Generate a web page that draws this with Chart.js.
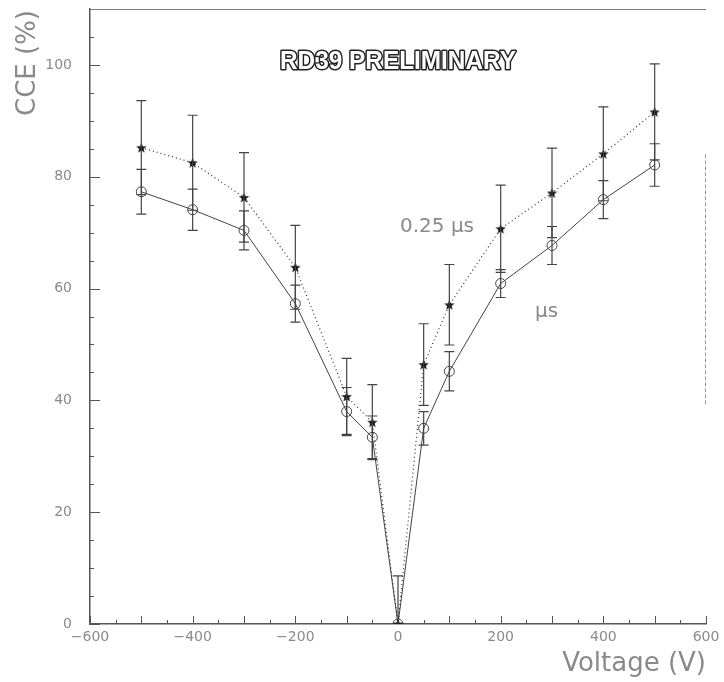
<!DOCTYPE html>
<html lang="en">
<head>
  <meta charset="UTF-8">
  <title>RD39 CCE vs Voltage</title>
  <script src="https://cdn.jsdelivr.net/npm/chart.js"></script>
  <style>
    body { margin: 0; background: #ffffff; }
    #chart { display: block; }
  </style>
</head>
<body>
  <canvas id="chart" width="724" height="682"></canvas>

  <script>
    // values
    const voltages = [-500, -400, -300, -200, -100, -50, 0, 50, 100, 200, 300, 400, 500];
    const cceShort = [85.2, 82.5, 76.3, 63.8, 40.7, 36.1, 0, 46.4, 57.1, 70.7, 77.1, 84.1, 91.6];   // 0.25 us
    const errShort = [8.4, 8.5, 8.0, 7.5, 6.8, 6.7, 8.6, 7.3, 7.2, 7.8, 8.0, 8.4, 8.6];
    const cceLong = [77.3, 74.1, 70.4, 57.3, 38.0, 33.4, 0, 35.0, 45.2, 60.9, 67.7, 75.9, 82.1];     // us (label cut off)
    const errLong = [4.0, 3.7, 3.5, 3.3, 4.3, 3.8, 0, 3.0, 3.5, 2.5, 3.4, 3.4, 3.8];

    const xTicks = [-600, -400, -200, 0, 200, 400, 600];
    const yTicks = [0, 20, 40, 60, 80, 100];

    const toPoints = (ys) => voltages.map((v, i) => ({ x: v, y: ys[i] }));

    // filled star marker
    const makeStar = (size) => {
      const c = document.createElement('canvas');
      c.width = c.height = size;
      const g = c.getContext('2d');
      g.beginPath();
      for (let i = 0; i < 10; i++) {
        const r = i % 2 ? size * 0.21 : size * 0.5;
        const a = -Math.PI / 2 + i * Math.PI / 5;
        const px = size / 2 + r * Math.cos(a), py = size / 2 + 0.5 + r * Math.sin(a);
        i ? g.lineTo(px, py) : g.moveTo(px, py);
      }
      g.closePath();
      g.fillStyle = '#111';
      g.fill();
      return c;
    };

    const labelColor = '#8a8a8a';

    // error bars, inner ticks, frame and free text
    const decor = {
      id: 'decor',
      beforeDatasetsDraw(chart) {
        const { ctx, chartArea: a, scales: { x, y } } = chart;
        ctx.save();
        ctx.strokeStyle = '#555';
        ctx.lineWidth = 1;
        // y ticks every 5
        for (let v = 0; v <= 110; v += 5) {
          const py = Math.round(y.getPixelForValue(v)) + 0.5;
          const len = v % 20 === 0 ? 10 : 4;
          ctx.beginPath(); ctx.moveTo(a.left, py); ctx.lineTo(a.left + len, py); ctx.stroke();
        }
        // x ticks every 50
        for (let v = -600; v <= 600; v += 50) {
          const px = Math.round(x.getPixelForValue(v)) + 0.5;
          const len = v % 100 === 0 ? 8 : 4;
          ctx.beginPath(); ctx.moveTo(px, a.bottom); ctx.lineTo(px, a.bottom - len); ctx.stroke();
        }
        // top and right frame
        ctx.strokeStyle = '#777';
        ctx.beginPath(); ctx.moveTo(a.left, a.top + 0.5); ctx.lineTo(a.right, a.top + 0.5); ctx.stroke();
        ctx.setLineDash([4, 2]);
        ctx.strokeStyle = '#999';
        ctx.beginPath();
        ctx.moveTo(a.right - 0.5, y.getPixelForValue(84));
        ctx.lineTo(a.right - 0.5, y.getPixelForValue(39));
        ctx.stroke();
        ctx.restore();
      },
      afterDatasetsDraw(chart) {
        const { ctx, chartArea: a, scales: { x, y } } = chart;
        const bars = [[cceShort, errShort], [cceLong, errLong]];
        ctx.save();
        ctx.beginPath();
        ctx.rect(a.left, a.top, a.right - a.left, a.bottom - a.top);
        ctx.clip();
        ctx.strokeStyle = '#444';
        ctx.lineWidth = 1.2;
        bars.forEach(([vals, errs]) => {
          voltages.forEach((v, i) => {
            if (!errs[i]) return;
            const px = x.getPixelForValue(v);
            const top = y.getPixelForValue(vals[i] + errs[i]);
            const bot = y.getPixelForValue(vals[i] - errs[i]);
            ctx.beginPath();
            ctx.moveTo(px, top); ctx.lineTo(px, bot);
            ctx.moveTo(px - 5, top); ctx.lineTo(px + 5, top);
            ctx.moveTo(px - 5, bot); ctx.lineTo(px + 5, bot);
            ctx.stroke();
          });
        });
        ctx.restore();

        ctx.save();
        // outlined banner
        ctx.font = 'bold 25px "Liberation Sans", Arial, sans-serif';
        ctx.textAlign = 'center';
        ctx.textBaseline = 'middle';
        ctx.lineJoin = 'round';
        const txt = 'RD39 PRELIMINARY';
        const w = ctx.measureText(txt).width;
        ctx.translate(398, 62);
        ctx.scale(236 / w, 1);
        ctx.lineWidth = 3;
        ctx.strokeStyle = '#222';
        ctx.strokeText(txt, 0, 0);
        ctx.fillStyle = '#fff';
        ctx.fillText(txt, 0, 0);
        ctx.restore();

        ctx.save();
        ctx.fillStyle = labelColor;
        ctx.textBaseline = 'middle';
        ctx.textAlign = 'left';
        ctx.font = '20px "DejaVu Sans", sans-serif';
        ctx.fillText('0.25 \u00b5s', 400, 227);
        ctx.fillText('\u00b5s', 535, 312);
        // axis titles
        ctx.font = '26px "DejaVu Sans", sans-serif';
        ctx.textAlign = 'right';
        ctx.fillText('Voltage (V)', 706, 664);
        ctx.translate(28, 10);
        ctx.rotate(-Math.PI / 2);
        ctx.font = '26px "DejaVu Sans", sans-serif';
        ctx.textAlign = 'right';
        ctx.fillText('CCE (%)', 0, 0);
        ctx.restore();
      }
    };

    const minus = (v) => String(v).replace('-', '\u2212');

    new Chart(document.getElementById('chart'), {
      type: 'scatter',
      data: {
        datasets: [
          {
            label: '0.25 us',
            data: toPoints(cceShort),
            showLine: true,
            borderColor: '#333',
            borderWidth: 1.2,
            borderDash: [1, 3],
            pointStyle: makeStar(11),
            pointRadius: 5,
            backgroundColor: '#111'
          },
          {
            label: 'us',
            data: toPoints(cceLong),
            showLine: true,
            borderColor: '#444',
            borderWidth: 1,
            pointStyle: 'circle',
            pointRadius: 5,
            pointBorderWidth: 1,
            pointBorderColor: '#444',
            pointBackgroundColor: 'rgba(255,255,255,0)'
          }
        ]
      },
      options: {
        responsive: false,
        animation: false,
        layout: { padding: { top: 9, right: 18, left: 0, bottom: 0 } },
        plugins: { legend: { display: false }, tooltip: { enabled: false } },
        scales: {
          x: {
            type: 'linear',
            min: -600,
            max: 600,
            afterFit: (s) => { s.height = 58; s.paddingLeft = 0; s.paddingRight = 0; },
            afterBuildTicks: (s) => { s.ticks = xTicks.map(v => ({ value: v })); },
            grid: { display: false, drawTicks: false },
            border: { display: true, color: '#555', width: 1.5 },
            ticks: {
              padding: 5,
              color: labelColor,
              font: { family: 'DejaVu Sans', size: 14 },
              maxRotation: 0,
              callback: minus
            }
          },
          y: {
            type: 'linear',
            min: 0,
            max: 110,
            afterFit: (s) => { s.width = 90; s.paddingTop = 0; s.paddingBottom = 0; },
            afterBuildTicks: (s) => { s.ticks = yTicks.map(v => ({ value: v })); },
            grid: { display: false, drawTicks: false },
            border: { display: true, color: '#555', width: 1.5 },
            ticks: {
              padding: 18,
              color: labelColor,
              font: { family: 'DejaVu Sans', size: 14 }
            }
          }
        }
      },
      plugins: [decor]
    });
  </script>
</body>
</html>
